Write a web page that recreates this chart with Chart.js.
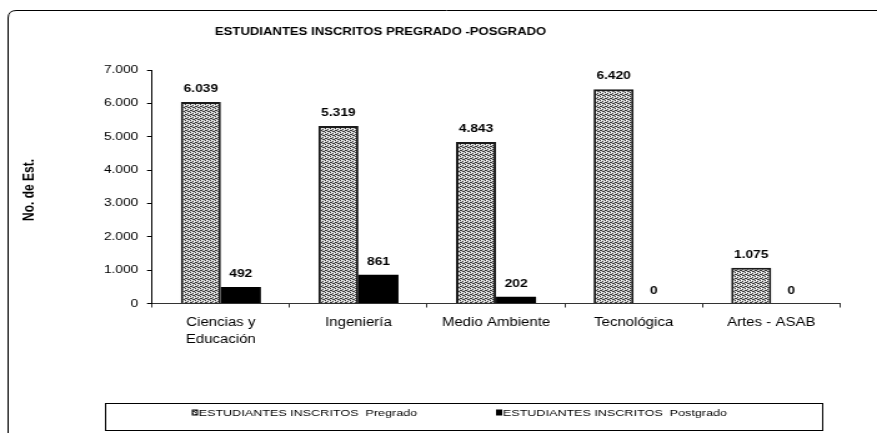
<!DOCTYPE html>
<html>
<head>
<meta charset="utf-8">
<script src="https://cdn.jsdelivr.net/npm/chart.js@4/dist/chart.umd.min.js"></script>
<style>
  html, body { margin: 0; padding: 0; background: #fff; overflow: hidden; }
  #wrap { width: 702px; height: 433px; transform: scaleX(1.2493); transform-origin: 0 0; }
</style>
</head>
<body>
<div id="wrap"><canvas id="chart" width="702" height="433"></canvas></div>
<script>
// datos
const facultades = [["Ciencias y", "Educación"], "Ingeniería", "Medio Ambiente", "Tecnológica", "Artes - ASAB"];
const pregrado = [6039, 5319, 4843, 6420, 1075];
const postgrado = [492, 861, 202, 0, 0];
const serieNombres = ["ESTUDIANTES INSCRITOS  Pregrado", "ESTUDIANTES INSCRITOS  Postgrado"];
const titulo = "ESTUDIANTES INSCRITOS PREGRADO -POSGRADO";
const tituloEje = "No. de Est.";

function miles(v) {
    return String(v).replace(/\B(?=(\d{3})+(?!\d))/g, ".");
}

// textura gris punteada para pregrado
function texturaGris() {
    const c = document.createElement("canvas");
    c.width = 4; c.height = 4;
    const g = c.getContext("2d");
    g.fillStyle = "#cfcfcf";
    g.fillRect(0, 0, 4, 4);
    g.fillStyle = "#3a3a3a";
    [[0,0],[2,1],[1,2],[3,3],[2,3],[0,2]].forEach(p => g.fillRect(p[0], p[1], 1, 1));
    g.fillStyle = "#fff";
    [[1,0],[3,1]].forEach(p => g.fillRect(p[0], p[1], 1, 1));
    return g.createPattern(c, "repeat");
}
const patron = texturaGris();

function textoEstirado(ctx, txt, x, y, f) {
    ctx.save();
    ctx.translate(x, y);
    ctx.scale(f, 1);
    ctx.fillText(txt, 0, 0);
    ctx.restore();
}

const extras = {
    id: "extras",
    afterDatasetsDraw(chart) {
        const ctx = chart.ctx;
        ctx.save();
        // etiquetas de valor
        ctx.fillStyle = "#000";
        ctx.font = "bold 11px Arial, 'Liberation Sans'";
        ctx.textAlign = "center";
        ctx.textBaseline = "middle";
        chart.data.datasets.forEach((ds, i) => {
            chart.getDatasetMeta(i).data.forEach((bar, j) => {
                ctx.fillText(miles(ds.data[j]), bar.x, bar.y - 13);
            });
        });
        ctx.restore();
    },
    afterDraw(chart) {
        const ctx = chart.ctx;
        ctx.save();
        ctx.fillStyle = "#000";
        // titulo
        ctx.font = "bold 10.5px Arial, 'Liberation Sans'";
        ctx.textAlign = "left";
        ctx.textBaseline = "middle";
        ctx.fillText(titulo, 172, 32);
        // titulo eje y
        ctx.save();
        ctx.translate(24, 190);
        ctx.rotate(-Math.PI / 2);
        ctx.font = "bold 12px Arial, 'Liberation Sans'";
        ctx.textAlign = "center";
        ctx.fillText(tituloEje, 0, 0);
        ctx.restore();
        // marco exterior
        ctx.strokeStyle = "#000";
        ctx.lineWidth = 1;
        ctx.beginPath();
        ctx.moveTo(6.5, 433);
        ctx.lineTo(6.5, 18);
        ctx.quadraticCurveTo(6.5, 10.5, 13, 10.5);
        ctx.lineTo(702, 10.5);
        ctx.stroke();
        // leyenda
        ctx.strokeRect(84.5, 403.5, 574, 27);
        ctx.font = "9.5px Arial, 'Liberation Sans'";
        ctx.textAlign = "left";
        const xs = [155, 398.5];
        chart.data.datasets.forEach((ds, i) => {
            ctx.fillStyle = ds.backgroundColor;
            ctx.fillRect(xs[i] - 1, 410, 4, 5);
            ctx.strokeStyle = "#000";
            ctx.strokeRect(xs[i] - 1, 410, 4, 5);
            ctx.fillStyle = "#000";
            textoEstirado(ctx, ds.label, xs[i] + 4, 413, 1.06);
        });
        ctx.restore();
    }
};

new Chart("chart", {
    type: "bar",
    data: {
        labels: facultades,
        datasets: [{
            label: serieNombres[0],
            data: pregrado,
            backgroundColor: patron,
            borderColor: "#1a1a1a",
            borderWidth: 2
        }, {
            label: serieNombres[1],
            data: postgrado,
            backgroundColor: "#000",
            borderColor: "#000",
            borderWidth: 0
        }]
    },
    options: {
        responsive: false,
        animation: false,
        layout: {padding: {top: 70, right: 29.6, bottom: 0, left: 0}},
        datasets: {bar: {categoryPercentage: 0.582, barPercentage: 1.0}},
        plugins: {legend: {display: false}, title: {display: false}, tooltip: {enabled: false}},
        scales: {
            x: {
                offset: true,
                grid: {offset: true, drawOnChartArea: false, tickLength: 4, color: "#333"},
                border: {color: "#333"},
                ticks: {color: "#000", font: {family: "Arial, 'Liberation Sans'", size: 12, lineHeight: 1.4}, padding: 7, maxRotation: 0},
                afterFit(s) { s.height = 433 - 303.5; }
            },
            y: {
                min: 0, max: 7000,
                grid: {drawOnChartArea: false, tickLength: 4, color: "#000"},
                border: {color: "#000"},
                ticks: {stepSize: 1000, color: "#000", padding: 7, font: {family: "Arial, 'Liberation Sans'", size: 11},
                    callback: v => miles(v)},
                afterFit(s) { s.width = 121.7; }
            }
        }
    },
    plugins: [extras]
});
</script>
</body>
</html>
